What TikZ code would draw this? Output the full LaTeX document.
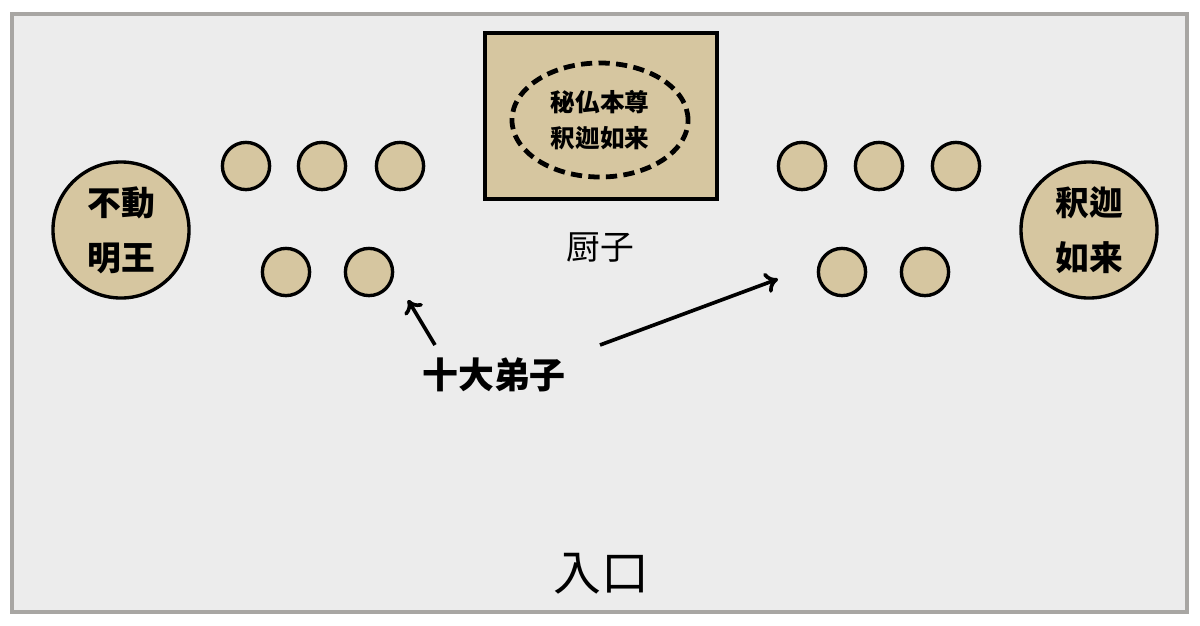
\documentclass[tikz,border=0pt]{standalone}
\usepackage{fontspec}
\setmainfont{Noto Sans CJK JP}
\usetikzlibrary{arrows.meta,shapes.geometric}
\definecolor{hallgray}{RGB}{236,236,236}
\definecolor{framegray}{RGB}{168,166,163}
\definecolor{woodtan}{RGB}{214,198,160}
\tikzset{
  seat/.style={circle,draw,line width=2.4pt,fill=woodtan,minimum size=1.18cm,inner sep=0pt},
  bigseat/.style={circle,draw,line width=2.4pt,fill=woodtan,minimum size=3.4cm,inner sep=0pt,
                  align=center,font=\fontsize{24}{39}\selectfont\bfseries},
  pointer/.style={line width=2.6pt,-{To[length=9pt,width=15pt]}},
}
\begin{document}
\begin{tikzpicture}[x=0.025cm,y=-0.025cm]
                \useasboundingbox (0,0) rectangle (1200,625);
                \draw[line width=2.8pt,draw=framegray,fill=hallgray] (12,14) rectangle (1187,612);
                %
                % zushi
                \node[draw,line width=2.2pt,fill=woodtan,minimum width=5.8cm,minimum height=4.15cm] (zushi) at (601,116) {};
                \node[ellipse,draw,dash pattern=on 8pt off 4.5pt,line width=3.4pt,
                      minimum width=4.4cm,minimum height=2.85cm,align=center,
                      font=\fontsize{17.5}{26}\selectfont\bfseries] (honzon) at (600,120)
                      {秘仏本尊\\釈迦如来};
                \node[font=\fontsize{24}{28}\selectfont] (zushilabel) at (600,248) {厨子};
                %
                \node[bigseat] (fudo) at (121,230) {不動\\明王};
                \node[bigseat] (shaka) at (1089,230) {釈迦\\如来};
                %
                \foreach \x/\n in {246/1,322/2,400/3,802/4,879/5,956/6}
                    \node[seat] (top\n) at (\x,166) {};
                \foreach \x/\n in {286/1,369/2,842/3,925/4}
                    \node[seat] (low\n) at (\x,272) {};
                % ten disciples
                \node[font=\fontsize{25.5}{30}\selectfont\bfseries] (deshi) at (494,375) {十大弟子};
                \coordinate (la) at (435,345);
                \coordinate (lb) at (408,300);
                \coordinate (ra) at (600,345);
                \coordinate (rb) at (778,279);
                \draw[pointer] (la) -- (lb);
                \draw[pointer] (ra) -- (rb);
                %
                \node[font=\fontsize{34}{40}\selectfont] (entrance) at (601,574) {入口};
              \end{tikzpicture}
\end{document}
